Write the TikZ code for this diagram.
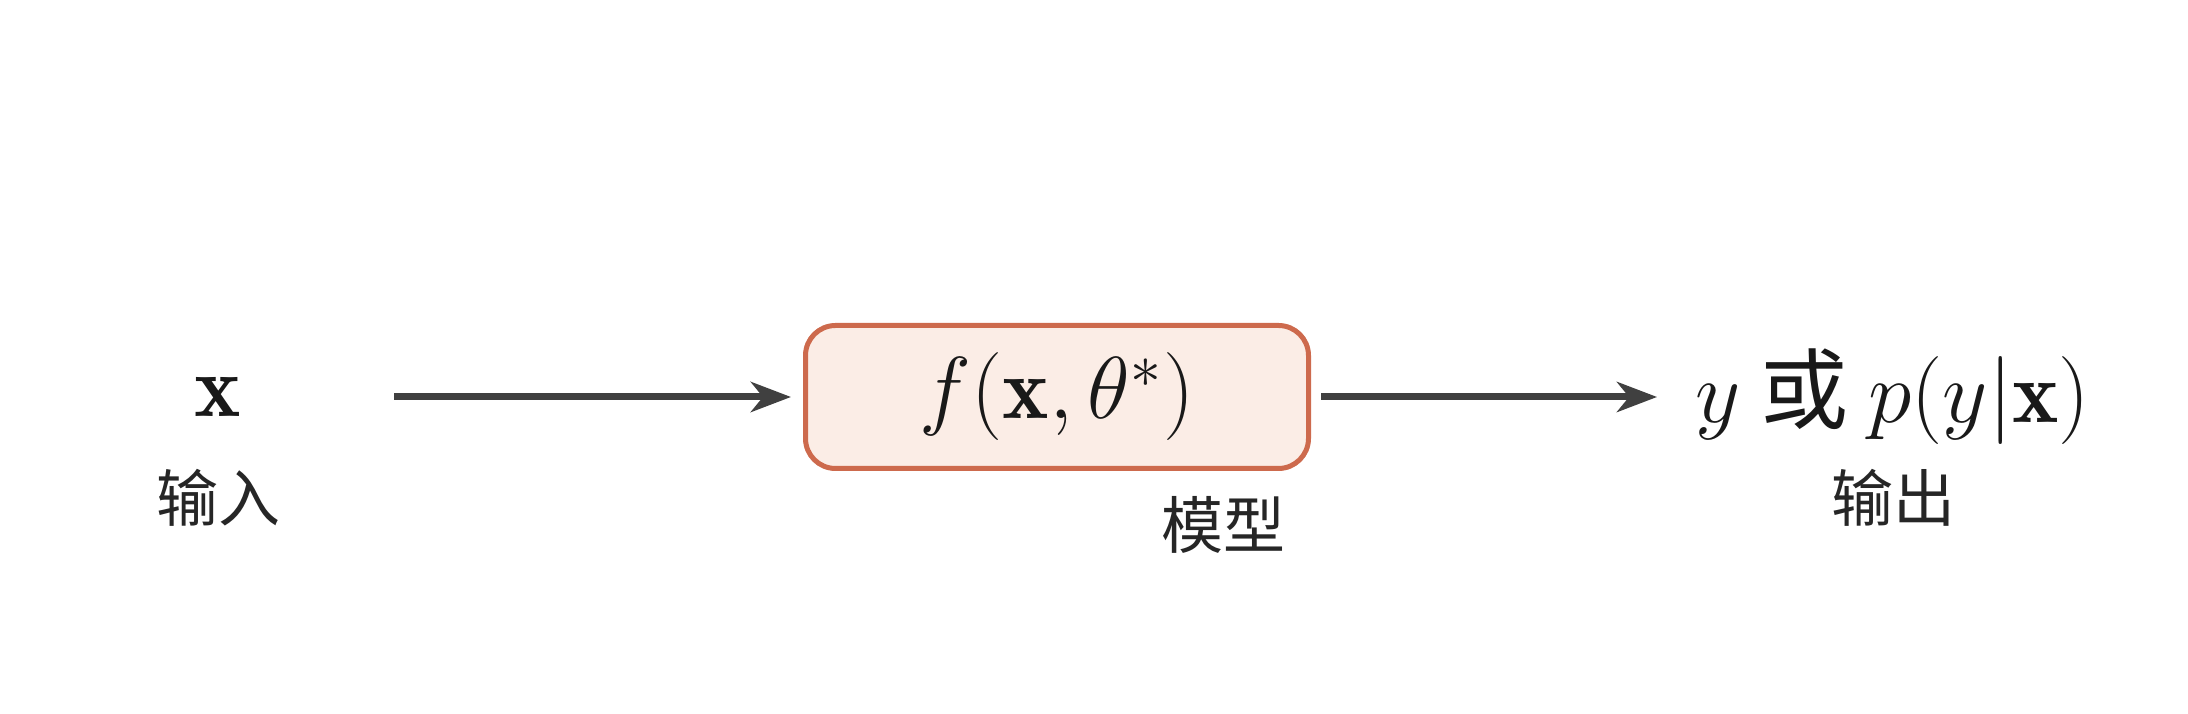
\RequirePackage{fix-cm}
\documentclass[tikz,border=0pt]{standalone}
\usepackage{fontspec}
\newfontfamily\cjk{Noto Sans CJK SC}
\usetikzlibrary{arrows.meta}
\definecolor{boxfill}{RGB}{251,237,230}
\definecolor{boxline}{RGB}{205,106,77}
\definecolor{arrowgray}{RGB}{64,64,64}
\begin{document}
\begin{tikzpicture}[x=0.25pt,y=-0.25pt,
  mathtext/.style={inner sep=0pt, text=black!90, font=\fontsize{22}{26}\selectfont\cjk},
  cjklabel/.style={inner sep=0pt, text=black!85, font=\fontsize{15.5}{18}\selectfont\cjk},
  modelbox/.style={draw=boxline, fill=boxfill, line width=1.25pt, rounded corners=7.5pt,
    minimum width=125.75pt, minimum height=35.75pt, inner sep=0pt, text=black!90,
    font=\fontsize{22}{26}\selectfont},
  flow/.style={draw=arrowgray, line width=1.75pt, -{Stealth[length=10pt,width=7.5pt,inset=3pt]}}]
\useasboundingbox (0,0) rectangle (2188,714);
\node[mathtext] (xin) at (218,397) {$\mathbf{x}$};
\node[cjklabel] (inlabel) at (218,498) {输入};
\node[modelbox] (model) at (1057,397) {$f(\mathbf{x},\theta^{*})$};
\node[cjklabel] (modellabel) at (1223,525) {模型};
\node[mathtext] (out) at (1893,397) {$y$ 或 $p(y|\mathbf{x})$};
\node[cjklabel] (outlabel) at (1893,498) {输出};
\draw[flow, shorten <=38pt, shorten >=3pt] (xin) -- (model);
\draw[flow, shorten <=2.6pt, shorten >=9.5pt] (model) -- (out);
\end{tikzpicture}
\end{document}
